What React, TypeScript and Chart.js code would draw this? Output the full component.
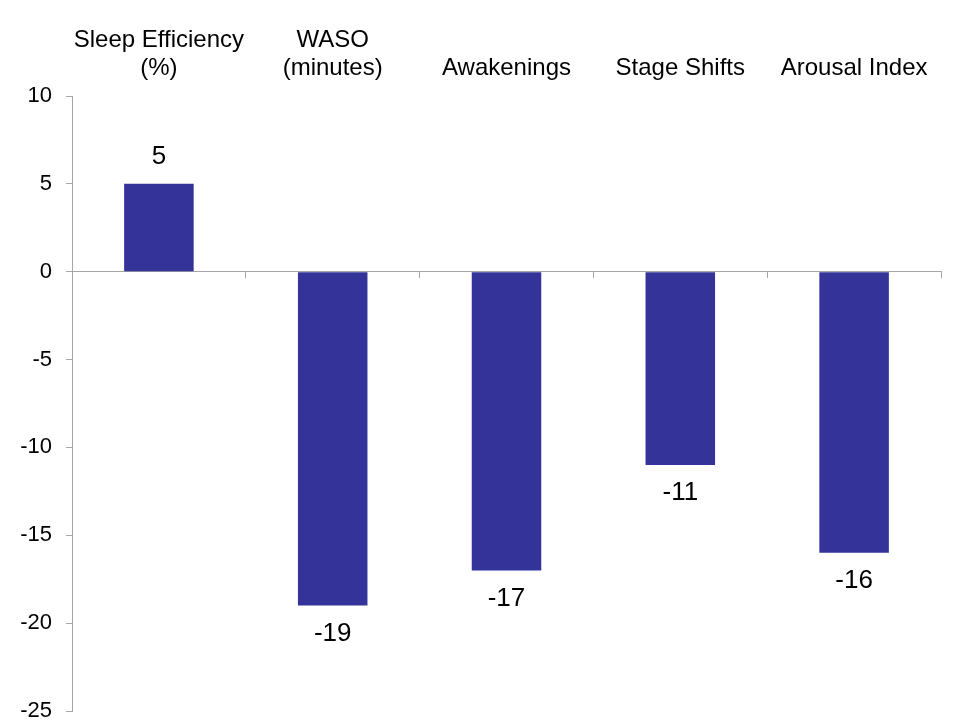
import React, { useEffect, useRef } from "react";
import { Chart, registerables } from "chart.js";

Chart.register(...registerables);

const categories: string[][] = [
  ["Sleep Efficiency", "(%)"],
  ["WASO", "(minutes)"],
  ["Awakenings"],
  ["Stage Shifts"],
  ["Arousal Index"],
];
const changeValues: number[] = [5, -19, -17, -11, -16];
const yMin = -25;
const yMax = 10;
const yStep = 5;

const FONT = "'Liberation Sans', Arial, sans-serif";
const AXIS_GREY = "#a6a6a6";
const BAR_COLOR = "#333399";

// Writes each bar's value just beyond its end (above positives, below negatives)
const valueLabels = {
  id: "valueLabels",
  afterDatasetsDraw(chart: any) {
    const { ctx } = chart;
    const meta = chart.getDatasetMeta(0);
    const data = chart.data.datasets[0].data as number[];
    ctx.save();
    ctx.font = `26px ${FONT}`;
    ctx.fillStyle = "#000";
    ctx.textAlign = "center";
    ctx.textBaseline = "middle";
    meta.data.forEach((bar: any, i: number) => {
      const v = data[i];
      const y = v >= 0 ? bar.y - 27 : bar.y + 28;
      ctx.fillText(String(v), bar.x, y);
    });
    ctx.restore();
  },
};

export default function App() {
  const canvasRef = useRef<HTMLCanvasElement | null>(null);

  useEffect(() => {
    if (!canvasRef.current) return;
    const chart = new Chart(canvasRef.current, {
      type: "bar",
      data: {
        labels: categories,
        datasets: [
          {
            data: changeValues,
            backgroundColor: BAR_COLOR,
            borderWidth: 0,
            barPercentage: 0.4,
            categoryPercentage: 1,
            xAxisID: "x",
            yAxisID: "y",
          },
        ],
      },
      options: {
        animation: false,
        responsive: false,
        maintainAspectRatio: false,
        layout: { padding: { top: 0, right: 20, bottom: 10, left: 0 } },
        plugins: {
          legend: { display: false },
          tooltip: { enabled: false },
        },
        scales: {
          x: {
            type: "category",
            position: "top",
            grid: { display: false },
            border: { display: false },
            afterFit(scale: any) {
              scale.height = 96;
              scale.paddingLeft = 0;
              scale.paddingRight = 0;
            },
            ticks: {
              color: "#000",
              font: { family: FONT, size: 24, lineHeight: 1.15 },
              padding: 6,
              maxRotation: 0,
              autoSkip: false,
            },
          },
          xZero: {
            type: "category",
            position: { y: 0 },
            labels: categories.map((c) => c.join(" ")),
            grid: {
              offset: true,
              drawOnChartArea: false,
              drawTicks: true,
              tickLength: 6,
              color: AXIS_GREY,
            },
            border: { display: true, color: AXIS_GREY, width: 1 },
            ticks: { display: false },
          },
          y: {
            type: "linear",
            min: yMin,
            max: yMax,
            afterFit(scale: any) {
              scale.width = 72;
              scale.paddingTop = 0;
              scale.paddingBottom = 0;
            },
            grid: {
              drawOnChartArea: false,
              drawTicks: true,
              tickLength: 6,
              color: AXIS_GREY,
            },
            border: { display: true, color: AXIS_GREY, width: 1 },
            ticks: {
              stepSize: yStep,
              color: "#000",
              padding: 14,
              font: { family: FONT, size: 22 },
            },
          },
        },
      },
      plugins: [valueLabels],
    } as any);
    return () => chart.destroy();
  }, []);

  return (
    <div style={{ position: "absolute", left: 0, top: 0, width: 961, height: 721, background: "#fff" }}>
      <canvas ref={canvasRef} width={961} height={721} style={{ display: "block" }} />
    </div>
  );
}
